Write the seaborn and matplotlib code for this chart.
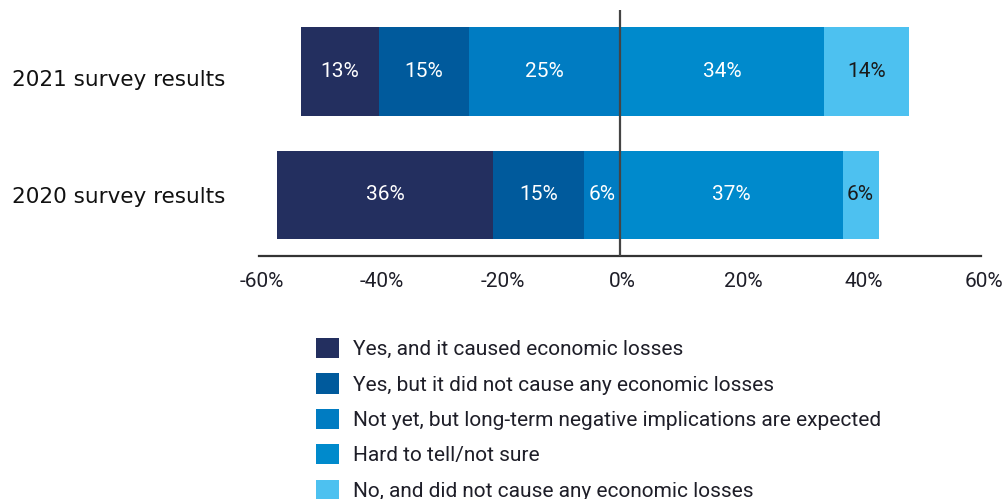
import matplotlib
matplotlib.use("Agg")
import matplotlib.pyplot as plt
import matplotlib.transforms as mtransforms
from matplotlib.patches import Patch
import seaborn as sns

# Survey rows (top to bottom)
surveys = ["2021 survey results", "2020 survey results"]

# Response categories
responses = [
    "Yes, and it caused economic losses",
    "Yes, but it did not cause any economic losses",
    "Not yet, but long-term negative implications are expected",
    "Hard to tell/not sure",
    "No, and did not cause any economic losses",
]

# Share of respondents (%), values ordered as [2021, 2020]
yes_losses = [13, 36]
yes_no_losses = [15, 15]
not_yet = [25, 6]
hard_to_tell = [34, 37]
no_losses = [14, 6]

tick_values = [-60, -40, -20, 0, 20, 40, 60]
tick_labels = ["-60%", "-40%", "-20%", "0%", "20%", "40%", "60%"]

colors = ["#232F5F", "#005A9C", "#007CC2", "#008ACC", "#4DC1F0"]
label_colors = ["white", "white", "white", "white", "#1A1A1A"]

sns.set_style("white")
plt.rcParams["font.family"] = ["Roboto", "DejaVu Sans"]
text_color = "#1E1E28"

fig = plt.figure(figsize=(10.06, 4.99), dpi=100)
ax = fig.add_axes([258.5 / 1006, 1 - 256 / 499, (981 - 258.5) / 1006, (256 - 10) / 499])

series = [yes_losses, yes_no_losses, not_yet, hard_to_tell, no_losses]
neg_idx = [0, 1, 2]   # drawn to the left of zero
pos_idx = [3, 4]      # drawn to the right of zero

bar_w = 0.72
segments = []  # (series index, row, start, end)

# Left side: draw the longest cumulative bar first so inner segments sit on top
for k, i in enumerate(neg_idx):
    totals = [-sum(series[j][r] for j in neg_idx[k:]) for r in range(len(surveys))]
    sns.barplot(x=totals, y=surveys, order=surveys, orient="h", color=colors[i],
                saturation=1, width=bar_w, linewidth=0, errorbar=None, ax=ax)
    for r in range(len(surveys)):
        inner = -sum(series[j][r] for j in neg_idx[k + 1:])
        segments.append((i, r, totals[r], inner))

# Right side: cumulative totals, longest first
for k in range(len(pos_idx) - 1, -1, -1):
    i = pos_idx[k]
    totals = [sum(series[j][r] for j in pos_idx[:k + 1]) for r in range(len(surveys))]
    sns.barplot(x=totals, y=surveys, order=surveys, orient="h", color=colors[i],
                saturation=1, width=bar_w, linewidth=0, errorbar=None, ax=ax)
    for r in range(len(surveys)):
        inner = sum(series[j][r] for j in pos_idx[:k])
        segments.append((i, r, inner, totals[r]))

# Value labels centred in each segment
for i, r, a, b in segments:
    ax.text((a + b) / 2, r, f"{series[i][r]}%", ha="center", va="center",
            fontsize=15, color=label_colors[i])

ax.axvline(0, color="#444444", lw=1.6, zorder=5)

ax.set_xlim(-60, 60)
ax.set_ylim(1.494, -0.498)
ax.set_xticks(tick_values)
ax.set_xticklabels(tick_labels)
ax.set_xlabel("")
ax.set_ylabel("")

for side in ["top", "right", "left"]:
    ax.spines[side].set_visible(False)
ax.spines["bottom"].set_color("#333333")
ax.spines["bottom"].set_linewidth(1.6)

ax.tick_params(axis="x", direction="in", length=9.5, width=1.6, color="#333333",
               pad=11.5, labelsize=15, labelcolor=text_color)
ax.tick_params(axis="y", length=0, pad=24, labelsize=15.5, labelcolor="#111111")

# small nudges for the tick label text
shift_x = mtransforms.ScaledTranslation(3 / 100, 0, fig.dpi_scale_trans)
for lbl in ax.get_xticklabels():
    lbl.set_transform(lbl.get_transform() + shift_x)
ylbls = ax.get_yticklabels()
for lbl in ylbls:
    lbl.set_fontfamily("DejaVu Sans")
shift_down = mtransforms.ScaledTranslation(0, -7 / 100, fig.dpi_scale_trans)
ylbls[0].set_transform(ylbls[0].get_transform() + shift_down)
ax.grid(False)

handles = [Patch(facecolor=c, edgecolor="none") for c in colors]
fig.legend(handles, responses, loc="upper left",
           bbox_to_anchor=(316 / 1006, 1 - 338 / 499), frameon=False,
           borderpad=0, borderaxespad=0, handlelength=1.12, handleheight=1.12,
           handletextpad=0.66, labelspacing=0.68, fontsize=15, labelcolor=text_color)

fig.savefig("out.png", dpi=100)
